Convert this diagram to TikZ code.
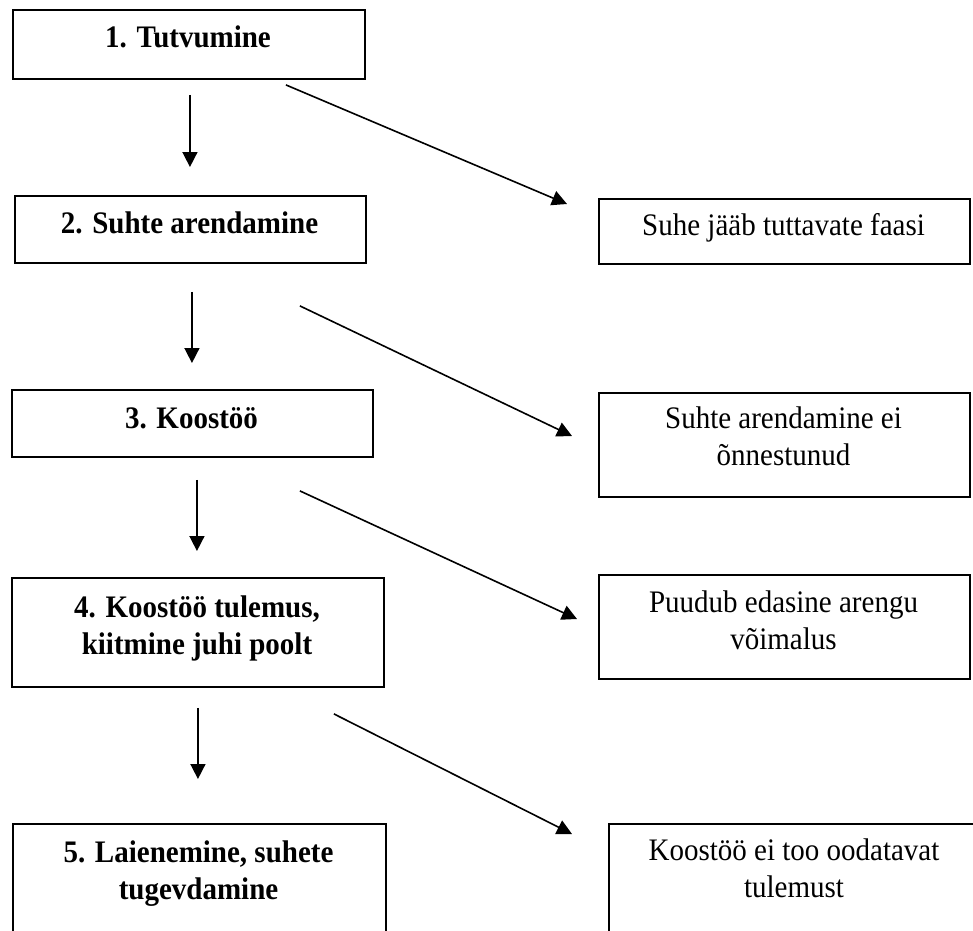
\documentclass[tikz,border=0pt]{standalone}
\usepackage{fontspec}
\usepackage{graphicx}
\setmainfont{Liberation Serif}
\usetikzlibrary{arrows.meta,calc}
\newcommand{\stxt}[1]{\scalebox{1}[1.08]{\begin{tabular}[t]{@{}c@{}}#1\end{tabular}}}
\begin{document}
\begin{tikzpicture}[x=1pt,y=-1pt,
  box/.style={draw=black, line width=1.9pt, inner sep=0pt, anchor=north west},
  lbl/.style={anchor=base, inner sep=0pt, font=\fontsize{29}{34.5}\selectfont},
  blbl/.style={anchor=base, inner sep=0pt, font=\fontsize{29}{34.5}\selectfont\bfseries},
  arr/.style={line width=1.6pt, -{Triangle[length=15pt,width=15pt]}}]
\useasboundingbox (0,0) rectangle (973,930);
% left boxes
\node[box, minimum width=352pt, minimum height=69pt] (b1) at (12,9) {};
\node[box, minimum width=351pt, minimum height=67pt] (b2) at (14,195) {};
\node[box, minimum width=361pt, minimum height=67pt] (b3) at (11,389) {};
\node[box, minimum width=372pt, minimum height=109pt] (b4) at (11,577) {};
\node[box, minimum width=373pt, minimum height=112pt] (b5) at (12,823) {};
% right boxes
\node[box, minimum width=371pt, minimum height=65pt] (r1) at (598,198) {};
\node[box, minimum width=371pt, minimum height=104pt] (r2) at (598,392) {};
\node[box, minimum width=371pt, minimum height=104pt] (r3) at (598,574) {};
\node[box, minimum width=372pt, minimum height=112pt] (r4) at (608,823) {};
% texts
\node[blbl] (t1) at (188,47) {\stxt{1. Tutvumine}};
\node[blbl] (t2) at (189.5,233) {\stxt{2. Suhte arendamine}};
\node[blbl] (t3) at (191.5,428) {\stxt{3. Koostöö}};
\node[blbl] (t4) at (197,617) {\stxt{4. Koostöö tulemus,\\kiitmine juhi poolt}};
\node[blbl] (t5) at (198.5,862) {\stxt{5. Laienemine, suhete\\tugevdamine}};
\node[lbl] (s1) at (783.5,235) {\stxt{Suhe jääb tuttavate faasi}};
\node[lbl] (s2) at (783.5,428) {\stxt{Suhte arendamine ei\\õnnestunud}};
\node[lbl] (s3) at (783.5,612) {\stxt{Puudub edasine arengu\\võimalus}};
\node[lbl] (s4) at (794,860) {\stxt{Koostöö ei too oodatavat\\tulemust}};
% vertical arrows
\draw[arr, shorten <=15pt, shorten >=28pt] ($(b1.south)+(1,0)$) -- ($(b2.north)+(-0.5,0)$);
\draw[arr, shorten <=28pt, shorten >=26pt] ($(b2.south)+(1.5,0)$) -- ($(b3.north)+(-0.5,0)$);
\draw[arr, shorten <=22pt, shorten >=26pt] ($(b3.south)+(4.5,0)$) -- ($(b4.north)+(-1,0)$);
\draw[arr, shorten <=20pt, shorten >=44pt] (b4.south) -- ($(b5.north)+(-1.5,0)$);
% diagonal arrows
\draw[arr] ($(b1.south east)+(-80,5)$) -- ($(r1.north west)+(-31,6)$);
\draw[arr] ($(b2.south east)+(-67,42)$) -- ($(r2.north west)+(-26,44)$);
\draw[arr] ($(b3.south east)+(-74,33)$) -- ($(r3.north west)+(-21,45)$);
\draw[arr] ($(b4.south east)+(-51,26)$) -- ($(r4.north west)+(-36,11)$);
\end{tikzpicture}
\end{document}
